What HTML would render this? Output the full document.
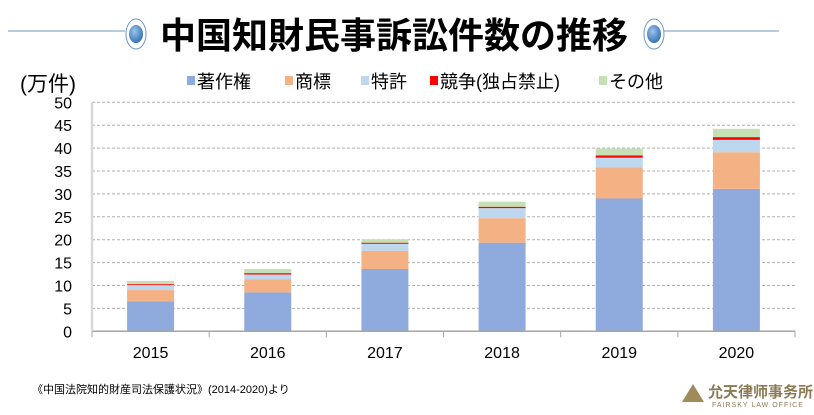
<!DOCTYPE html>
<html><head><meta charset="utf-8"><style>
body{margin:0;background:#fff;width:814px;height:410px;overflow:hidden;font-family:"Liberation Sans","Noto Sans CJK JP",sans-serif}
</style></head><body>
<svg width="814" height="410" viewBox="0 0 814 410" font-family="Liberation Sans, Noto Sans CJK JP, sans-serif">
<defs><radialGradient id="g" cx="40%" cy="35%" r="70%"><stop offset="0" stop-color="#9cc3ea"/><stop offset="1" stop-color="#2f6fb3"/></radialGradient></defs>
<g>
<line x1="8" y1="31" x2="125" y2="31" stroke="#9fb8d6" stroke-width="1.5"/>
<line x1="664" y1="31" x2="779" y2="31" stroke="#9fb8d6" stroke-width="1.5"/>
<ellipse cx="136" cy="34" rx="10" ry="15" fill="#fff" stroke="#6f97c9"/>
<ellipse cx="136" cy="34" rx="7" ry="9" fill="url(#g)"/>
<ellipse cx="654" cy="34" rx="10" ry="15" fill="#fff" stroke="#6f97c9"/>
<ellipse cx="654" cy="34" rx="7" ry="9" fill="url(#g)"/>
</g>
<text x="394" y="48" text-anchor="middle" font-size="36" font-weight="bold" fill="#000">中国知財民事訴訟件数の推移</text>
<text x="20" y="91" font-size="21" fill="#000">(万件)</text>
<g id="legend"></g>
<g id="grid"></g><g id="bars"></g><g id="axes"></g>
<text x="32" y="393" font-size="11" fill="#000">《中国法院知的財産司法保護状況》(2014-2020)より</text>
<g>
<polygon points="682,402 693,384 704,402" fill="#a08a5a"/>
<text x="708" y="397" font-size="15" font-weight="bold" fill="#8c7a55">允天律师事务所</text>
<text x="712" y="407" font-size="7" fill="#8c7a55" letter-spacing="1">FAIRSKY LAW OFFICE</text>
</g>
</svg>
<script>
const categories=["2015","2016","2017","2018","2019","2020"];
const seriesNames=["著作権","商標","特許","競争(独占禁止)","その他"];
const copyright=[6.5,8.5,13.6,19.35,29.0,31.1];
const trademark=[2.5,2.9,4.0,5.35,6.8,8.0];
const patent=[1.1,1.0,1.5,2.2,2.1,2.7];
const competition=[0.2,0.3,0.25,0.3,0.5,0.6];
const other=[0.7,0.9,0.75,1.1,1.5,1.8];
const yTicks=[0,5,10,15,20,25,30,35,40,45,50];
const colors=["#8faadc","#f4b183","#bdd7ee","#ff0000","#c5e0b4"];
const NS="http://www.w3.org/2000/svg";
const x0=92,x1=795,yTop=102.3,yBot=331.3,yMax=50;
const band=(x1-x0)/categories.length,bw=47;
const y=v=>yBot-(v/yMax)*(yBot-yTop);
const xc=i=>x0+band*(i+0.5);
function mk(t,a,p){const e=document.createElementNS(NS,t);for(const k in a)e.setAttribute(k,a[k]);p.appendChild(e);return e;}
const grid=document.getElementById('grid'),bars=document.getElementById('bars'),axes=document.getElementById('axes'),legend=document.getElementById('legend');
yTicks.forEach(t=>{
  if(t>0){const l=mk('line',{x1:x0,x2:x1,y1:y(t),y2:y(t),stroke:'#b0b0b0','stroke-dasharray':'3,2'},grid);
  
  }
  const tx=mk('text',{x:72,y:y(t)+6,'text-anchor':'end','font-size':16,fill:'#000'},axes);tx.textContent=t;
  
  
});
const series=[copyright,trademark,patent,competition,other];
categories.forEach((c,i)=>{
  let acc=0;
  series.forEach((s,k)=>{
    const r=mk('rect',{x:xc(i)-bw/2,y:y(acc+s[i]),width:bw,height:y(acc)-y(acc+s[i]),fill:colors[k]},bars);
    
    
    acc+=s[i];
  });
  const tx=mk('text',{x:xc(i),y:358,'text-anchor':'middle','font-size':16,fill:'#000'},axes);tx.textContent=c;
  
  
});
const ax=mk('line',{x1:x0,x2:x1,y1:yBot,y2:yBot,stroke:'#a6a6a6','stroke-width':1.5},axes);


const ay=mk('line',{x1:x0,x2:x0,y1:yTop,y2:yBot,stroke:'#d9d9d9','stroke-width':2.5},axes);


for(let i=0;i<=categories.length;i++){const l=mk('line',{x1:x0+band*i,x2:x0+band*i,y1:yBot,y2:yBot+6,stroke:'#a6a6a6'},axes);

}
const lx=[187,285,361,430,599];
seriesNames.forEach((n,k)=>{
  const g=mk('g',{},legend);
  
  
  mk('rect',{x:lx[k],y:76,width:8,height:9,fill:colors[k]},g);
  const t=mk('text',{x:lx[k]+10,y:88,'font-size':18,fill:'#000'},g);t.textContent=n;
});
</script>
</body></html>
